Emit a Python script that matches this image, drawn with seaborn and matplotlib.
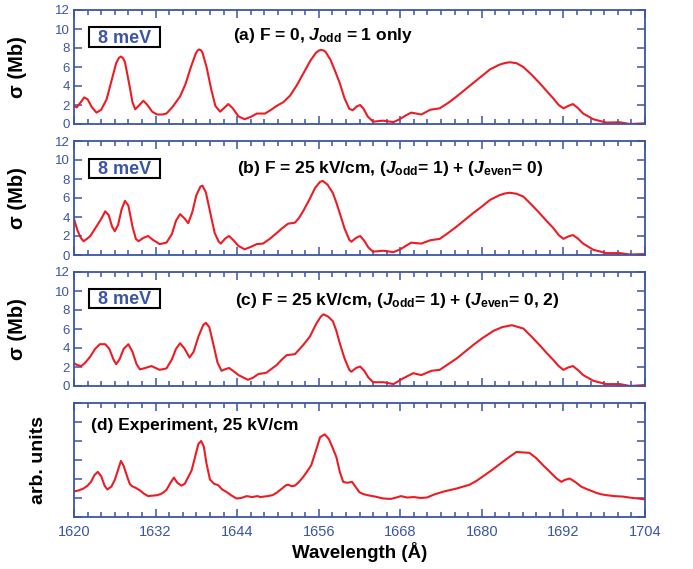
import matplotlib
matplotlib.use("Agg")
import matplotlib.pyplot as plt
from matplotlib.patches import Rectangle
import seaborn as sns
import pandas as pd

# ---------------- data ----------------
wl_a = [1620.0,1620.4,1621.0,1621.5,1622.0,1622.6,1623.3,1624.0,1624.8,1625.5,1626.2,1626.6,1626.9,1627.2,1627.5,1628.1,1628.6,1629.0,1629.5,1630.2,1630.8,1631.5,1632.2,1633.0,1633.6,1634.5,1635.6,1636.4,1637.2,1637.9,1638.2,1638.4,1638.7,1638.9,1639.5,1640.2,1640.8,1641.5,1642.1,1642.7,1643.3,1644.2,1645.1,1646.0,1646.9,1648.1,1649.0,1649.8,1650.8,1651.8,1652.8,1653.8,1654.8,1655.6,1656.0,1656.3,1656.7,1657.0,1657.7,1658.4,1659.1,1659.8,1660.5,1661.0,1661.6,1662.1,1662.6,1663.2,1664.0,1665.5,1667.0,1667.9,1668.8,1669.6,1671.1,1672.4,1673.8,1675.0,1676.3,1677.5,1678.7,1680.0,1681.2,1682.6,1683.4,1684.1,1685.1,1686.1,1687.3,1688.5,1689.5,1690.5,1691.3,1692.0,1692.7,1693.4,1694.1,1694.9,1696.4,1698.3,1700.3,1701.8,1704.0]
sig_a = [1.9,1.75,2.3,2.8,2.6,1.8,1.2,1.5,2.6,4.5,6.4,6.95,7.1,6.95,6.5,4.3,2.3,1.55,1.9,2.45,2.0,1.3,1.0,1.0,1.1,1.8,2.9,4.2,6.0,7.4,7.75,7.85,7.75,7.5,6.0,3.6,1.9,1.3,1.7,2.1,1.7,0.8,0.5,0.75,1.1,1.1,1.5,1.9,2.3,3.0,4.1,5.4,6.7,7.5,7.72,7.8,7.75,7.6,6.8,5.6,4.3,2.7,1.6,1.45,1.85,2.0,1.6,0.8,0.25,0.35,0.2,0.5,0.9,1.2,1.0,1.5,1.65,2.2,2.9,3.6,4.3,5.05,5.75,6.25,6.42,6.5,6.4,6.0,5.2,4.3,3.5,2.7,2.0,1.65,1.9,2.1,1.7,1.1,0.5,0.15,0.18,0.0,0.07]

wl_b = [1620.0,1620.5,1621.0,1621.4,1621.9,1622.4,1623.3,1624.0,1624.6,1625.1,1625.6,1626.0,1626.5,1627.0,1627.5,1628.0,1628.6,1629.1,1629.5,1630.2,1630.9,1631.6,1632.6,1633.6,1634.4,1635.0,1635.6,1636.2,1636.8,1637.4,1638.0,1638.6,1638.9,1639.4,1640.0,1640.7,1641.3,1641.6,1642.2,1642.8,1643.4,1644.2,1645.1,1646.0,1646.9,1647.8,1648.8,1649.8,1650.6,1651.5,1652.5,1653.1,1653.7,1654.6,1655.5,1656.2,1656.6,1657.3,1658.1,1658.6,1659.1,1659.8,1660.5,1660.8,1661.5,1662.1,1662.7,1663.3,1664.0,1665.5,1667.0,1668.0,1669.6,1671.1,1672.4,1673.8,1675.0,1676.3,1677.5,1678.7,1680.0,1681.2,1682.6,1683.4,1684.1,1685.1,1686.1,1687.3,1688.5,1689.5,1690.5,1691.3,1692.0,1692.7,1693.4,1694.1,1694.9,1696.4,1698.3,1700.3,1701.8,1704.0]
sig_b = [3.8,2.6,1.8,1.45,1.7,2.0,3.0,3.8,4.6,4.2,3.0,2.5,3.2,4.8,5.7,5.2,3.0,1.7,1.45,1.8,2.0,1.6,1.15,1.3,2.2,3.6,4.3,3.9,3.35,4.5,6.3,7.2,7.3,6.6,4.6,2.3,1.4,1.2,1.7,2.0,1.6,0.95,0.6,0.85,1.15,1.2,1.7,2.3,2.8,3.3,3.4,3.9,4.6,5.8,7.1,7.7,7.8,7.4,6.5,5.5,4.4,2.8,1.6,1.4,1.8,2.0,1.5,0.8,0.35,0.45,0.3,0.6,1.3,1.2,1.55,1.7,2.3,3.0,3.7,4.4,5.1,5.8,6.3,6.48,6.55,6.45,6.15,5.3,4.4,3.6,2.85,2.1,1.7,1.95,2.1,1.75,1.2,0.55,0.2,0.2,0.05,0.1]

wl_c = [1620.0,1620.5,1621.1,1621.7,1622.4,1623.1,1623.8,1624.6,1625.2,1625.8,1626.2,1626.7,1627.3,1628.0,1628.6,1629.2,1629.7,1630.5,1631.4,1632.0,1632.6,1633.6,1634.4,1635.0,1635.6,1636.2,1637.0,1637.6,1638.3,1639.0,1639.4,1639.9,1640.5,1641.1,1641.7,1642.2,1642.8,1643.4,1644.2,1645.6,1646.4,1647.1,1648.3,1649.8,1650.6,1651.3,1652.5,1653.7,1654.7,1655.6,1656.3,1656.7,1657.4,1658.1,1658.6,1659.1,1659.8,1660.5,1660.8,1661.5,1662.1,1662.7,1663.3,1664.0,1665.5,1667.0,1668.4,1669.9,1671.1,1672.6,1673.8,1676.3,1678.7,1680.0,1681.7,1683.0,1684.4,1686.1,1687.3,1688.5,1689.5,1690.5,1691.3,1692.0,1692.7,1693.4,1694.1,1694.9,1696.4,1698.3,1700.3,1701.8,1704.0]
sig_c = [2.4,2.2,2.1,2.5,3.1,3.9,4.4,4.4,3.9,2.8,2.3,2.8,3.9,4.4,3.6,2.3,1.75,1.9,2.1,1.9,1.7,1.85,2.8,3.9,4.5,4.0,3.0,3.6,5.2,6.4,6.65,6.2,4.4,2.5,1.6,1.75,1.9,1.6,1.15,0.65,0.9,1.25,1.4,2.2,2.8,3.25,3.35,4.3,5.2,6.5,7.3,7.55,7.3,6.8,5.8,4.5,2.9,1.7,1.5,1.9,2.05,1.6,0.9,0.4,0.4,0.2,0.8,1.35,1.15,1.6,1.7,2.9,4.3,5.0,5.8,6.2,6.4,6.05,5.2,4.3,3.5,2.75,2.1,1.7,1.95,2.1,1.7,1.15,0.55,0.2,0.2,0.0,0.1]

wl_d = [1620.0,1620.7,1621.4,1622.0,1622.5,1623.0,1623.5,1624.0,1624.5,1624.9,1625.5,1626.0,1626.5,1626.9,1627.3,1627.8,1628.2,1628.5,1629.0,1629.7,1630.3,1630.9,1631.6,1632.3,1633.0,1633.6,1634.2,1634.7,1635.2,1635.8,1636.3,1636.8,1637.3,1637.8,1638.3,1638.7,1639.1,1639.5,1640.0,1640.6,1641.2,1641.8,1642.5,1643.2,1643.9,1644.6,1645.4,1646.2,1647.0,1647.4,1648.5,1649.2,1649.8,1650.6,1651.2,1651.5,1652.0,1652.5,1653.1,1653.7,1654.3,1654.9,1655.6,1656.2,1656.9,1657.5,1658.1,1658.6,1659.1,1659.6,1660.2,1660.9,1661.4,1662.0,1662.6,1663.5,1664.3,1665.5,1666.6,1667.4,1668.1,1669.0,1670.0,1671.0,1671.9,1673.1,1674.5,1676.3,1678.2,1679.2,1680.2,1681.4,1682.6,1683.8,1685.1,1686.0,1687.0,1688.0,1689.0,1689.8,1690.5,1691.1,1691.7,1692.2,1692.9,1693.4,1693.9,1694.6,1695.4,1696.1,1696.8,1697.5,1698.3,1699.5,1700.7,1702.2,1703.0,1704.0]
sig_d = [2.7,2.8,3.0,3.3,3.7,4.4,4.75,4.3,3.3,2.9,3.2,3.9,5.0,5.9,5.4,4.3,3.5,3.25,3.1,2.8,2.45,2.2,2.25,2.3,2.5,2.85,3.6,4.15,3.6,3.3,3.5,4.2,4.9,6.3,7.7,8.0,7.4,5.6,3.95,3.5,3.35,2.9,2.6,2.25,1.95,2.0,2.2,2.1,2.2,2.1,2.2,2.3,2.55,3.0,3.35,3.4,3.25,3.3,3.7,4.2,4.8,5.45,7.0,8.4,8.7,8.2,7.2,6.3,4.75,3.7,3.6,3.7,3.2,2.6,2.4,2.25,2.15,1.95,1.9,2.05,2.2,2.05,2.1,2.0,2.05,2.4,2.7,3.0,3.4,3.8,4.3,4.9,5.55,6.2,6.85,6.8,6.75,6.2,5.45,4.9,4.4,4.0,3.7,3.9,4.05,3.85,3.6,3.2,2.95,2.75,2.55,2.4,2.3,2.2,2.15,2.0,1.95,1.85]

titles = [
    r"(a) F = 0, $J_{\mathrm{odd}}$ = 1 only",
    r"(b) F = 25 kV/cm, ($J_{\mathrm{odd}}$= 1) + ($J_{\mathrm{even}}$= 0)",
    r"(c) F = 25 kV/cm, ($J_{\mathrm{odd}}$= 1) + ($J_{\mathrm{even}}$= 0, 2)",
    "(d) Experiment, 25 kV/cm",
]
box_label = "8 meV"
xticks = [1620, 1632, 1644, 1656, 1668, 1680, 1692, 1704]
yticks = [0, 2, 4, 6, 8, 10, 12]

# ---------------- style ----------------
sns.set_theme(style="ticks")
plt.rcParams["font.family"] = ["Liberation Sans", "DejaVu Sans"]
plt.rcParams["mathtext.fontset"] = "custom"
plt.rcParams["mathtext.rm"] = "Liberation Sans:bold"
plt.rcParams["mathtext.bf"] = "Liberation Sans:bold"
plt.rcParams["mathtext.it"] = "Liberation Sans:bold:italic"

BLUE = "#3b55a5"
RED = "#ed1c24"

fig = plt.figure(figsize=(6.93, 5.69), dpi=100)
left, width, height = 74/693, 571/693, 114/569
tops = [10, 141, 272, 403]
bottoms = [1-(t+114)/569 for t in tops]
series = [(wl_a, sig_a), (wl_b, sig_b), (wl_c, sig_c), (wl_d, sig_d)]
title_pos = [(0.278, 0.78), (0.285, 0.763), (0.282, 0.754), (0.029, 0.80)]
box_pix = [(27, 47), (159, 178), (289, 308)]

for i, (b, (wl, sg)) in enumerate(zip(bottoms, series)):
    ax = fig.add_axes([left, b, width, height])
    df = pd.DataFrame({"wl": wl, "sig": sg})
    sns.lineplot(data=df, x="wl", y="sig", ax=ax, color=RED, lw=1.5,
                 estimator=None, sort=False)
    ax.set_xlim(1620, 1704)
    ax.set_ylim(0, 12)
    ax.set_xticks(xticks)
    ax.set_xticks(range(1620, 1705, 2), minor=True)
    ax.set_yticks(yticks)
    for s in ax.spines.values():
        s.set_color(BLUE)
        s.set_linewidth(1.3)
        s.set_visible(True)
    ax.tick_params(axis="both", which="both", direction="in", colors=BLUE,
                   top=True, right=True, bottom=True, left=True, width=1.1)
    ax.tick_params(axis="x", which="major", length=6, labelsize=10.5, pad=6)
    ax.tick_params(axis="x", which="minor", length=3.5)
    ax.tick_params(axis="y", which="major", length=5.5, labelsize=9.5, pad=3)
    ax.set_xlabel("")
    if i < 3:
        ax.set_xticklabels([])
        ax.set_ylabel("σ (Mb)", fontsize=14.5, fontweight="bold", color="black")
        ax.yaxis.set_label_coords(-0.082, 0.5)
        y0p, y1p = box_pix[i]
        fy_top = 1 - (y0p - tops[i]) / 114
        fy_bot = 1 - (y1p - tops[i]) / 114
        fx0, fx1 = (89-74)/571, (160-74)/571
        ax.add_patch(Rectangle((fx0, fy_bot), fx1-fx0, fy_top-fy_bot,
                               transform=ax.transAxes, fc="white", ec="black",
                               lw=1.5, zorder=5))
        ax.text((fx0+fx1)/2, (fy_top+fy_bot)/2 - 0.012, box_label,
                transform=ax.transAxes, ha="center", va="center", color=BLUE,
                fontsize=13, fontweight="bold", zorder=6)
    else:
        ax.set_yticklabels([])
        ax.set_ylabel("arb. units", fontsize=14, fontweight="bold", color="black")
        ax.yaxis.set_label_coords(-0.047, 0.5)
        ax.set_xlabel("Wavelength (Å)", fontsize=13.5, fontweight="bold",
                      color="black", labelpad=2)
    tx, ty = title_pos[i]
    ax.text(tx, ty, titles[i], transform=ax.transAxes, ha="left", va="center",
            fontsize=12.5, fontweight="bold", color="black")

fig.savefig("out.png", dpi=100)
